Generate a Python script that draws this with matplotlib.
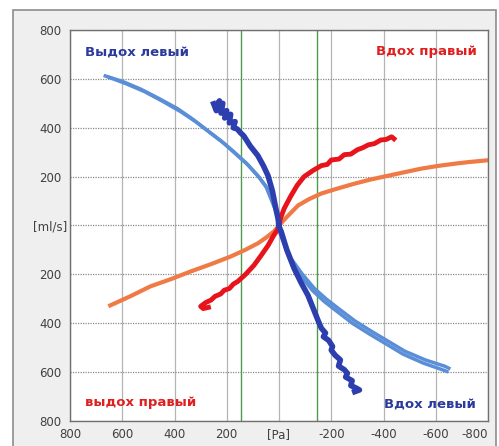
import matplotlib
matplotlib.use("Agg")
import matplotlib.pyplot as plt
from matplotlib.patches import Rectangle

## data (P in Pa, Q in ml/s)

# light blue - vydoh levyi (two overlapped loops)
lb_up_p = [665, 600, 531, 460, 388, 330, 273, 220, 173, 125, 81, 50, 31, 12, 4, 0]
lb_up_q = [612, 590, 559, 520, 478, 435, 388, 345, 302, 255, 204, 160, 110, 60, 30, 0]
lb_up2_p = [650, 585, 515, 445, 375, 318, 262, 210, 165, 118, 76, 46, 28, 10, 3, 0]
lb_up2_q = [606, 580, 548, 508, 465, 424, 378, 335, 292, 247, 197, 153, 104, 55, 28, 0]
lb_lo_p = [0, -6, -20, -46, -90, -135, -180, -227, -290, -354, -420, -481, -560, -635, -650]
lb_lo_q = [0, -35, -70, -135, -200, -257, -300, -339, -390, -433, -475, -514, -550, -576, -584]
lb_lo2_p = [0, -5, -18, -42, -85, -128, -172, -220, -282, -346, -412, -474, -552, -625, -642]
lb_lo2_q = [0, -36, -72, -140, -208, -266, -310, -350, -401, -444, -486, -526, -563, -590, -597]

# dark blue - noisy one
db_up_p = [250, 240, 228, 238, 215, 222, 200, 208, 185, 190, 168, 175, 160, 148, 135, 110, 81, 60, 42, 25, 12, 4, 0]
db_up_q = [498, 470, 510, 485, 500, 460, 470, 440, 455, 420, 425, 400, 395, 380, 367, 325, 286, 245, 204, 140, 69, 30, 0]
db_lo_p = [0, -3, -8, -30, -58, -85, -111, -135, -150, -162, -178, -170, -190, -205, -200, -215, -235, -228, -250, -262, -255, -280, -275, -295, -308, -290]
db_lo_q = [0, -12, -24, -100, -176, -235, -286, -350, -390, -420, -440, -455, -470, -495, -510, -531, -550, -575, -590, -605, -620, -635, -655, -665, -673, -680]

# red - vdoh pravyi / vydoh pravyi
rd_up_p = [0, -6, -20, -46, -70, -96, -130, -162, -185, -200, -230, -250, -275, -300, -320, -342, -365, -390, -410, -431, -440]
rd_up_q = [0, 30, 70, 122, 165, 200, 225, 245, 250, 268, 272, 290, 292, 310, 318, 330, 335, 350, 352, 363, 355]
rd_lo_p = [0, 6, 20, 42, 70, 96, 128, 158, 175, 190, 210, 223, 245, 260, 280, 300, 290, 270]
rd_lo_q = [0, -18, -40, -82, -125, -163, -200, -229, -240, -258, -265, -280, -290, -305, -315, -331, -340, -335]

# orange
or_up_p = [0, -30, -73, -115, -162, -220, -288, -350, -419, -480, -546, -610, -673, -730, -800]
or_up_q = [0, 35, 82, 108, 131, 150, 171, 188, 204, 218, 233, 244, 253, 260, 267]
or_lo_p = [0, 19, 50, 81, 130, 185, 260, 338, 410, 492, 570, 646]
or_lo_q = [0, -24, -50, -73, -100, -127, -158, -188, -218, -249, -290, -327]

green_p = [145, -145]

xticks = [800, 600, 400, 200, 0, -200, -400, -600, -800]
xlabels = ["800", "600", "400", "200", "[Pa]", "-200", "-400", "-600", "-800"]
yticks = [800, 600, 400, 200, 0, -200, -400, -600, -800]
ylabels = ["800", "600", "400", "200", "[ml/s]", "200", "400", "600", "800"]

fig = plt.figure(figsize=(4.99, 4.46), dpi=100)
fig.patch.set_facecolor("white")
# grey window panel behind the chart
fig.patches.append(Rectangle((13/499, -0.05), (496-13)/499, (446-10)/446 + 0.05,
                             transform=fig.transFigure, facecolor="#efefef",
                             edgecolor="#8c8c8c", lw=1.2, zorder=-5))

ax = fig.add_axes([70/499, 1-421/446, 418/499, 391/446])
ax.set_zorder(2)
ax.set_facecolor("white")
ax.set_xlim(800, -800)
ax.set_ylim(-800, 800)

for x in xticks:
    ax.axvline(x, color="#b4b4b4", lw=0.9, zorder=1)
for y in yticks:
    ax.axhline(y, color="#8a8a8a", lw=0.9, ls=(0, (1, 1)), zorder=1)
for x in green_p:
    ax.axvline(x, color="#4f9a4a", lw=1.0, zorder=1)

lblue = "#5a8fd8"
dblue = "#2d3fae"
red = "#e8141c"
orange = "#f07a45"

ax.plot(or_up_p, or_up_q, color=orange, lw=3, zorder=2)
ax.plot(or_lo_p, or_lo_q, color=orange, lw=3, zorder=2)
ax.plot(rd_up_p, rd_up_q, color=red, lw=3.5, zorder=3)
ax.plot(rd_lo_p, rd_lo_q, color=red, lw=3.5, zorder=3)
ax.plot(lb_up_p, lb_up_q, color=lblue, lw=2.5, zorder=2)
ax.plot(lb_up2_p, lb_up2_q, color=lblue, lw=2.5, zorder=2)
ax.plot(lb_lo_p, lb_lo_q, color=lblue, lw=2.5, zorder=2)
ax.plot(lb_lo2_p, lb_lo2_q, color=lblue, lw=2.5, zorder=2)
ax.plot(db_up_p, db_up_q, color=dblue, lw=4, zorder=3)
ax.plot(db_lo_p, db_lo_q, color=dblue, lw=4, zorder=3)

ax.text(743, 710, "Выдох левый", color="#2b3a9c", fontsize=9.5, fontweight="bold", ha="left", va="center")
ax.text(-370, 710, "Вдох правый", color="#e02020", fontsize=9.5, fontweight="bold", ha="left", va="center")
ax.text(743, -725, "выдох правый", color="#e02020", fontsize=9.5, fontweight="bold", ha="left", va="center")
ax.text(-400, -732, "Вдох левый", color="#2b3a9c", fontsize=9.5, fontweight="bold", ha="left", va="center")

ax.set_xticks(xticks)
ax.set_xticklabels(xlabels)
ax.set_yticks(yticks)
ax.set_yticklabels(ylabels)
ax.tick_params(length=0, labelsize=8.5, labelcolor="#404040")
ax.tick_params(axis="y", pad=14)
ax.tick_params(axis="x", pad=5)
for lab in ax.get_yticklabels():
    lab.set_horizontalalignment("center")
ax.get_xticklabels()[-1].set_horizontalalignment("right")
for s in ax.spines.values():
    s.set_color("#707070")
    s.set_linewidth(1)

fig.savefig("out.png", dpi=100)
